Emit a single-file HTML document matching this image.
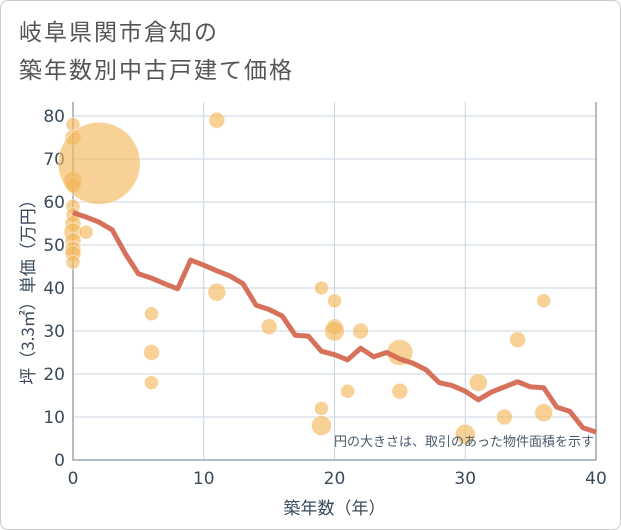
<!DOCTYPE html>
<html><head><meta charset="utf-8"><style>
body{margin:0;background:#fff;font-family:"DejaVu Sans","Noto Sans CJK JP",sans-serif}
#wrap{position:relative;width:619px;height:528px;border:1px solid #ccc;border-radius:8px;overflow:hidden}
.t{position:absolute;left:18px;font-size:23px;color:#555;letter-spacing:2px;font-family:"Noto Sans CJK JP",sans-serif}
</style></head><body>
<div id="wrap">
<div class="t" style="top:12px">岐阜県関市倉知の</div>
<div class="t" style="top:50px">築年数別中古戸建て価格</div>
<svg id="c" width="621" height="530" style="position:absolute;left:-1px;top:-1px"></svg>
</div>
<script>
const lineYears=[0,1,2,3,4,5,6,7,8,9,10,11,12,13,14,15,16,17,18,19,20,21,22,23,24,25,26,27,28,29,30,31,32,33,34,35,36,37,38,39,40];
const lineValues=[57.5,56.5,55.3,53.5,48,43.3,42.3,41,39.8,46.5,45.3,44,42.8,41,36,35,33.5,29,28.8,25.3,24.5,23.3,26,24,25,23.5,22.5,21,18,17.3,16,14,15.8,17,18.2,17,16.8,12.3,11.3,7.5,6.5];
const bubbleYears=[0,0,0,0,0,0,0,0,0,0,0,0,2,1,11,6,6,6,11,15,19,20,20,20,22,19,19,21,25,25,30,31,33,34,36,36];
const bubbleValues=[78,75,65,64,59,57,55,53,51,49,48,46,69,53,79,34,25,18,39,31,40,37,31,30,30,12,8,16,25,16,6,18,10,28,37,11];
const bubbleRadii=[7,8,9,8,7,7,8,9,8,8,8,7,41,7,8,7,8,7,9,8,7,7,8,10,8,7,10,7,13,8,10,9,8,8,7,9];
const xTicks=[0,10,20,30,40];
const yTicks=[0,10,20,30,40,50,60,70,80];
const X0=73,X1=596,Y0=460,Y1=116;
const xs=v=>X0+(X1-X0)*v/40, ys=v=>Y0-(Y0-Y1)*v/80;
const svg=document.getElementById('c'),NS='http://www.w3.org/2000/svg';
function mk(t,a,p){const e=document.createElementNS(NS,t);for(const k in a)e.setAttribute(k,a[k]);(p||svg).appendChild(e);return e;}
for(const v of yTicks){
const g=mk('line',{x1:X0,x2:X1,y1:ys(v),y2:ys(v),stroke:'#c8d4e0','stroke-width':1});


const t=mk('text',{x:X0-8,y:ys(v)+6,'text-anchor':'end','font-size':17,fill:'#3a4a5c'});t.textContent=v;

}
for(const v of xTicks){
const g=mk('line',{x1:xs(v),x2:xs(v),y1:Y1-14,y2:Y0,stroke:'#c8d4e0','stroke-width':1});


const t=mk('text',{x:xs(v),y:Y0+24,'text-anchor':'middle','font-size':17,fill:'#3a4a5c'});t.textContent=v;

}
const ax=mk('path',{d:`M${X0} ${Y1-14}V${Y0}H${X1}V${Y1-14}`,stroke:'#9aa5b0',fill:'none','stroke-width':1.5});


bubbleYears.forEach((y,i)=>{const c=mk('circle',{cx:xs(y),cy:ys(bubbleValues[i]),r:bubbleRadii[i],fill:'#f2b95e','fill-opacity':0.65,stroke:'#fff','stroke-opacity':0.5});

});
const p=mk('polyline',{points:lineYears.map((y,i)=>xs(y)+','+ys(lineValues[i])).join(' '),fill:'none',stroke:'#d46a52','stroke-width':5,'stroke-linejoin':'round','stroke-opacity':0.95});


const n=mk('text',{x:594,y:446,'text-anchor':'end','font-size':13,fill:'#4a5a6a','font-family':'Noto Sans CJK JP, sans-serif'});n.textContent='円の大きさは、取引のあった物件面積を示す';


const xt=mk('text',{x:(X0+X1)/2,y:514,'text-anchor':'middle','font-size':17,fill:'#3a4a5c','font-family':'Noto Sans CJK JP, sans-serif'});xt.textContent='築年数（年）';


const yt=mk('text',{x:0,y:0,'text-anchor':'middle','font-size':17,fill:'#3a4a5c','font-family':'Noto Sans CJK JP, sans-serif',transform:'translate(34,288) rotate(-90)'});yt.textContent='坪（3.3㎡）単価（万円）';


</script>
</body></html>
